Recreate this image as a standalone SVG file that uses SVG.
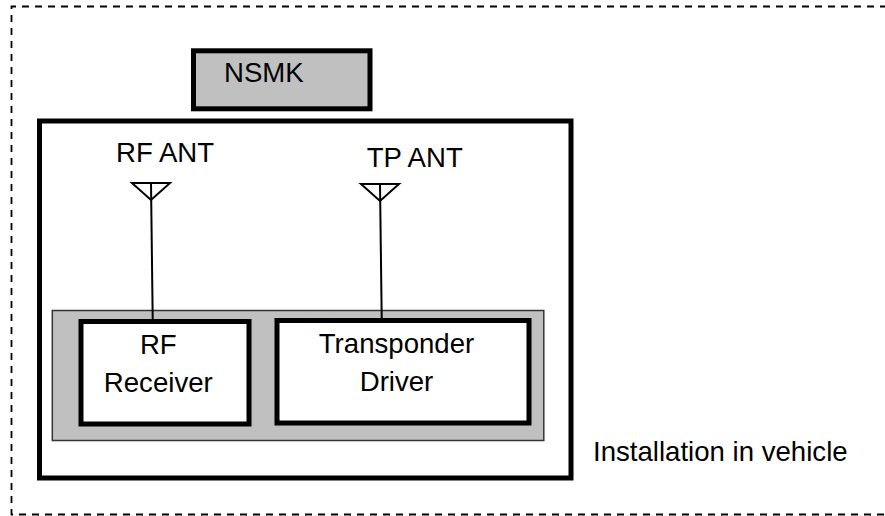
<svg xmlns="http://www.w3.org/2000/svg" width="885" height="516" viewBox="0 0 885 516">
<style>
  .lbl { font-family: "Liberation Sans", Arial, sans-serif; font-size: 27.6px; fill: #000; }
  .thick { fill: #fff; stroke: #000; stroke-width: 5; }
  .wire { stroke: #000; stroke-width: 2; fill: none; }
</style>
<rect width="885" height="516" fill="#fff"/>
<g id="vehicle">
  <path d="M 900 6.5 H 11.5 V 514.5 H 900" fill="none" stroke="#000" stroke-width="1.8" stroke-dasharray="7 6"/>
  <text class="lbl" x="593" y="461">Installation in vehicle</text>
</g>
<g id="nsmk">
  <rect class="thick" x="193.5" y="50.8" width="176.5" height="58" style="fill:#c0c0c0"/>
  <text class="lbl" x="224" y="82">NSMK</text>
</g>
<g id="unit">
  <rect class="thick" x="39.5" y="121" width="531.5" height="357"/>
</g>
<g id="board">
  <rect x="52.3" y="310.5" width="491.5" height="130" fill="#c0c0c0" stroke="#333" stroke-width="1.5"/>
</g>
<g id="rf-receiver">
  <rect class="thick" x="81" y="321.5" width="168" height="102.5"/>
  <text class="lbl" x="158.3" y="354" text-anchor="middle">RF</text>
  <text class="lbl" x="158.3" y="392" text-anchor="middle">Receiver</text>
</g>
<g id="transponder-driver">
  <rect class="thick" x="277" y="320.5" width="252" height="102.5"/>
  <text class="lbl" x="396.5" y="353.3" text-anchor="middle">Transponder</text>
  <text class="lbl" x="396.5" y="391" text-anchor="middle">Driver</text>
</g>
<g id="rf-ant">
  <path class="wire" d="M 132 183 H 170 L 151 200 Z"/>
  <text class="lbl" x="116" y="161.7">RF ANT</text>
</g>
<g id="tp-ant">
  <path class="wire" d="M 361 184 H 399 L 380 201 Z"/>
  <text class="lbl" x="366.7" y="167.3">TP ANT</text>
</g>
<g id="connectors">
  <line class="wire" x1="151" y1="183" x2="152.7" y2="319"/>
  <line class="wire" x1="380" y1="184" x2="381.7" y2="318"/>
</g>
</svg>
